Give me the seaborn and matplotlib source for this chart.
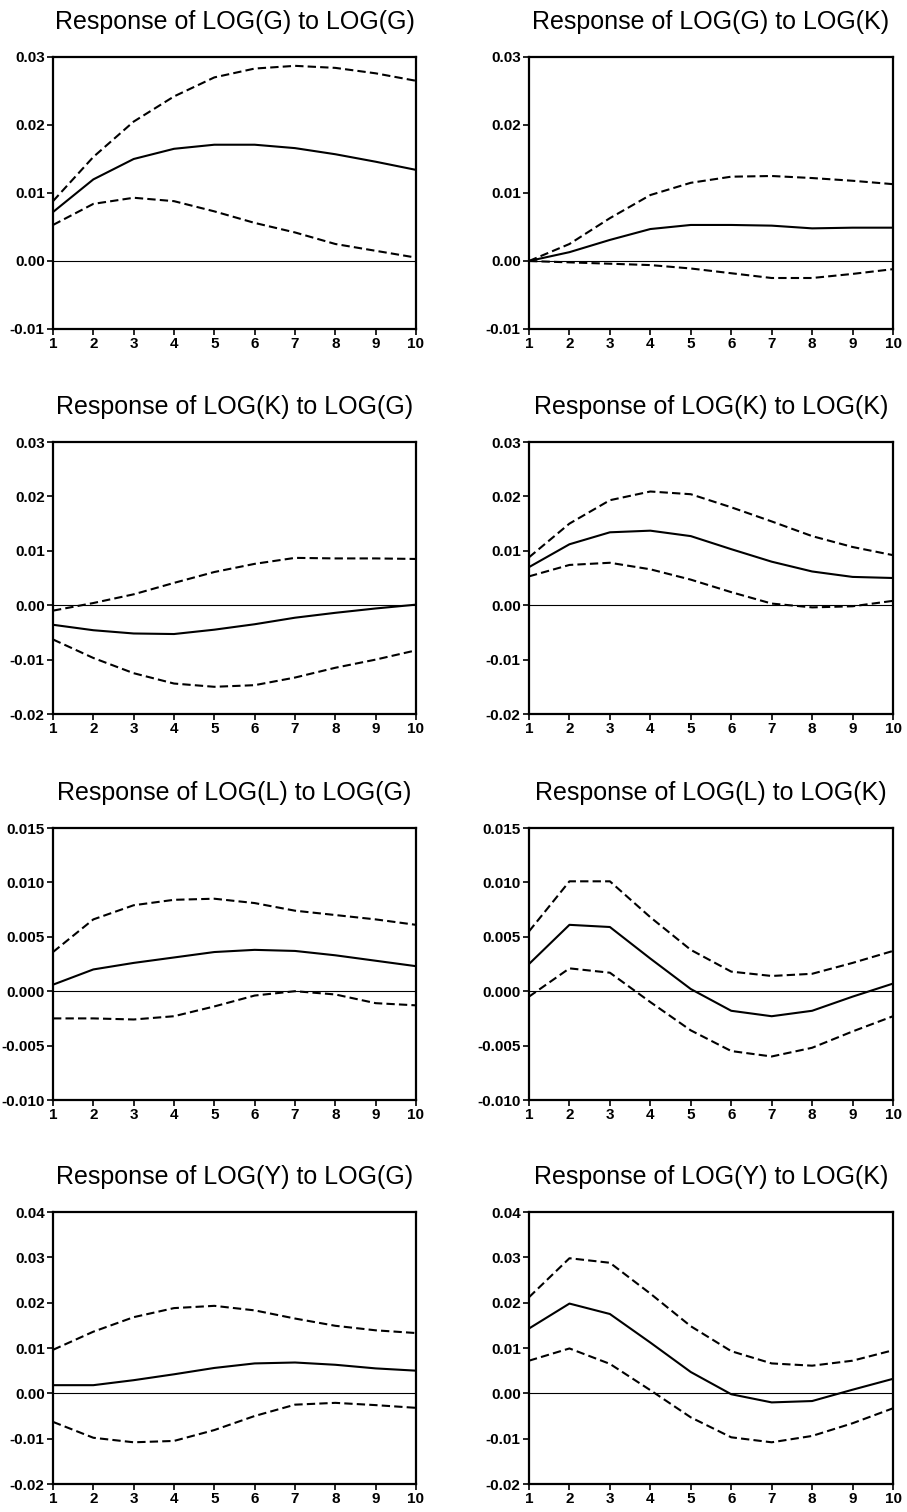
import numpy as np
import pandas as pd
import seaborn as sns
import matplotlib
import matplotlib.pyplot as plt
from matplotlib.ticker import FormatStrFormatter

sns.set_style("ticks")
matplotlib.rcParams['font.family'] = ['Liberation Sans', 'DejaVu Sans']
matplotlib.rcParams['axes.unicode_minus'] = False

periods = [1, 2, 3, 4, 5, 6, 7, 8, 9, 10]

# Response of LOG(G) to LOG(G)
gg_mid = [0.0072, 0.0120, 0.0150, 0.0165, 0.0171, 0.0171, 0.0166, 0.0157, 0.0146, 0.0134]
gg_hi = [0.0088, 0.0153, 0.0205, 0.0242, 0.0270, 0.0283, 0.0287, 0.0284, 0.0276, 0.0265]
gg_lo = [0.0053, 0.0084, 0.0093, 0.0088, 0.0073, 0.0056, 0.0042, 0.0025, 0.0015, 0.0005]

# Response of LOG(G) to LOG(K)
gk_mid = [0.0000, 0.0013, 0.0031, 0.0047, 0.0053, 0.0053, 0.0052, 0.0048, 0.0049, 0.0049]
gk_hi = [0.0000, 0.0025, 0.0063, 0.0097, 0.0115, 0.0124, 0.0125, 0.0122, 0.0118, 0.0113]
gk_lo = [0.0000, -0.0002, -0.0004, -0.0006, -0.0011, -0.0018, -0.0025, -0.0025, -0.0019, -0.0012]

# Response of LOG(K) to LOG(G)
kg_mid = [-0.0036, -0.0046, -0.0052, -0.0053, -0.0045, -0.0035, -0.0023, -0.0014, -0.0006, 0.0001]
kg_hi = [-0.0010, 0.0004, 0.0020, 0.0041, 0.0061, 0.0076, 0.0087, 0.0086, 0.0086, 0.0085]
kg_lo = [-0.0063, -0.0097, -0.0125, -0.0144, -0.0150, -0.0147, -0.0133, -0.0115, -0.0100, -0.0083]

# Response of LOG(K) to LOG(K)
kk_mid = [0.0070, 0.0112, 0.0134, 0.0137, 0.0127, 0.0103, 0.0080, 0.0062, 0.0052, 0.0050]
kk_hi = [0.0088, 0.0150, 0.0193, 0.0209, 0.0204, 0.0180, 0.0154, 0.0127, 0.0107, 0.0092]
kk_lo = [0.0053, 0.0074, 0.0078, 0.0066, 0.0047, 0.0024, 0.0003, -0.0004, -0.0002, 0.0008]

# Response of LOG(L) to LOG(G)
lg_mid = [0.0006, 0.0020, 0.0026, 0.0031, 0.0036, 0.0038, 0.0037, 0.0033, 0.0028, 0.0023]
lg_hi = [0.0036, 0.0066, 0.0079, 0.0084, 0.0085, 0.0081, 0.0074, 0.0070, 0.0066, 0.0061]
lg_lo = [-0.0025, -0.0025, -0.0026, -0.0023, -0.0014, -0.0004, 0.0000, -0.0003, -0.0011, -0.0013]

# Response of LOG(L) to LOG(K)
lk_mid = [0.0025, 0.0061, 0.0059, 0.0030, 0.0002, -0.0018, -0.0023, -0.0018, -0.0005, 0.0007]
lk_hi = [0.0055, 0.0101, 0.0101, 0.0068, 0.0038, 0.0018, 0.0014, 0.0016, 0.0026, 0.0037]
lk_lo = [-0.0005, 0.0021, 0.0017, -0.0010, -0.0036, -0.0055, -0.0060, -0.0052, -0.0037, -0.0023]

# Response of LOG(Y) to LOG(G)
yg_mid = [0.0018, 0.0018, 0.0029, 0.0042, 0.0056, 0.0066, 0.0068, 0.0063, 0.0055, 0.0050]
yg_hi = [0.0096, 0.0136, 0.0168, 0.0188, 0.0193, 0.0183, 0.0165, 0.0149, 0.0139, 0.0133]
yg_lo = [-0.0063, -0.0098, -0.0108, -0.0105, -0.0081, -0.0050, -0.0025, -0.0021, -0.0026, -0.0032]

# Response of LOG(Y) to LOG(K)
yk_mid = [0.0143, 0.0198, 0.0175, 0.0112, 0.0047, -0.0002, -0.0020, -0.0017, 0.0008, 0.0032]
yk_hi = [0.0212, 0.0298, 0.0288, 0.0220, 0.0148, 0.0093, 0.0066, 0.0061, 0.0072, 0.0095]
yk_lo = [0.0072, 0.0099, 0.0065, 0.0007, -0.0053, -0.0097, -0.0108, -0.0094, -0.0066, -0.0033]

titles = ['Response of LOG(G) to LOG(G)', 'Response of LOG(G) to LOG(K)',
          'Response of LOG(K) to LOG(G)', 'Response of LOG(K) to LOG(K)',
          'Response of LOG(L) to LOG(G)', 'Response of LOG(L) to LOG(K)',
          'Response of LOG(Y) to LOG(G)', 'Response of LOG(Y) to LOG(K)']
series = [(gg_mid, gg_hi, gg_lo), (gk_mid, gk_hi, gk_lo),
          (kg_mid, kg_hi, kg_lo), (kk_mid, kk_hi, kk_lo),
          (lg_mid, lg_hi, lg_lo), (lk_mid, lk_hi, lk_lo),
          (yg_mid, yg_hi, yg_lo), (yk_mid, yk_hi, yk_lo)]
y_ranges = [(-0.01, 0.03, 0.01, '%.2f'), (-0.02, 0.03, 0.01, '%.2f'),
            (-0.01, 0.015, 0.005, '%.3f'), (-0.02, 0.04, 0.01, '%.2f')]

W, H = 907, 1512
cols_px = [(53, 416), (529, 893)]
rows_px = [(57, 329), (442, 714), (828, 1100), (1212, 1484)]

fig = plt.figure(figsize=(W / 100, H / 100), dpi=100)

for i, title in enumerate(titles):
    r, c = divmod(i, 2)
    x0, x1 = cols_px[c]
    y0, y1 = rows_px[r]
    ax = fig.add_axes([x0 / W, 1 - y1 / H, (x1 - x0) / W, (y1 - y0) / H])
    mid, hi, lo = series[i]
    df = pd.DataFrame({'period': periods, 'mid': mid, 'hi': hi, 'lo': lo})
    ax.axhline(0, color='black', lw=0.8, zorder=1)
    sns.lineplot(data=df, x='period', y='mid', color='black', lw=1.5, ax=ax)
    sns.lineplot(data=df, x='period', y='hi', color='black', lw=1.5,
                 linestyle=(0, (4, 2)), ax=ax)
    sns.lineplot(data=df, x='period', y='lo', color='black', lw=1.5,
                 linestyle=(0, (4, 2)), ax=ax)
    lo_lim, hi_lim, step, fmt = y_ranges[r]
    ax.set_xlim(1, 10)
    ax.set_ylim(lo_lim, hi_lim)
    ax.set_xticks(periods)
    ax.set_yticks(np.arange(lo_lim, hi_lim + step / 2, step))
    ax.yaxis.set_major_formatter(FormatStrFormatter(fmt))
    ax.set_xlabel('')
    ax.set_ylabel('')
    ax.set_title(title, fontsize=18, pad=20, color='black')
    for sp in ax.spines.values():
        sp.set_visible(True)
        sp.set_color('black')
        sp.set_linewidth(1.6)
    ax.tick_params(axis='both', direction='out', length=4, width=1.2,
                   labelsize=11, colors='black', pad=2)
    for lab in ax.get_xticklabels() + ax.get_yticklabels():
        lab.set_fontweight('bold')

plt.savefig('out.png', dpi=100)
